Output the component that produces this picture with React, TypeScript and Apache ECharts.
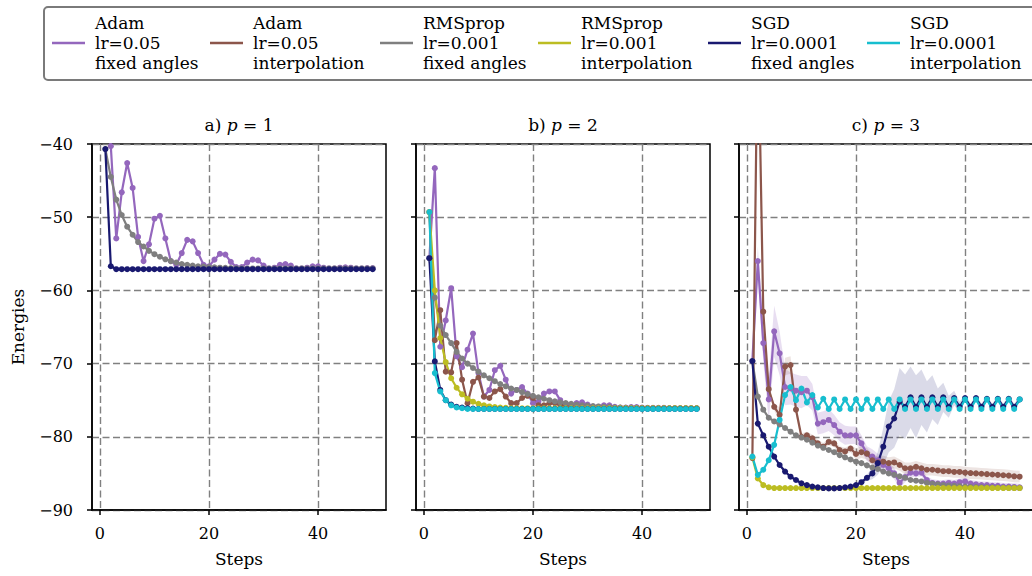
import React, { useEffect, useRef } from "react";
import * as echarts from "echarts";

const FONT = "'DejaVu Serif', serif";

const STEPS = Array.from({ length: 50 }, (_, i) => i + 1);

const SERIES_NAMES = [
  "Adam\nlr=0.05\nfixed angles",
  "Adam\nlr=0.05\ninterpolation",
  "RMSprop\nlr=0.001\nfixed angles",
  "RMSprop\nlr=0.001\ninterpolation",
  "SGD\nlr=0.0001\nfixed angles",
  "SGD\nlr=0.0001\ninterpolation",
];
const COLORS = ["#9467bd", "#8c564b", "#7f7f7f", "#bcbd22", "#191970", "#17becf"];
const BAND_COLORS = ["rgba(148,103,189,0.22)", "rgba(140,86,75,0.16)", "", "", "rgba(25,25,112,0.16)", ""];

const PANEL_TITLES = [
  "{n|a) }{i|p}{n| = 1}",
  "{n|b) }{i|p}{n| = 2}",
  "{n|c) }{i|p}{n| = 3}",
];
const X_TICKS = [0, 20, 40];

// ---------- p = 1 ----------
const adamFixedA = [
  -33, -40.3, -52.9, -46.6, -42.6, -46.0, -52.7, -56.0, -53.7, -50.2,
  -49.8, -52.9, -56.0, -56.5, -54.9, -53.1, -53.3, -54.9, -56.5, -56.7,
  -55.8, -55.0, -55.1, -56.1, -56.8, -56.8, -56.2, -55.8, -55.9, -56.6,
  -57.0, -56.9, -56.5, -56.4, -56.6, -57.0, -57.0, -56.9, -56.7, -56.7,
  -56.9, -57.0, -57.0, -56.9, -56.85, -56.9, -57.0, -57.0, -56.95, -56.95,
];
const rmsFixedA = [
  -40.7, -44.5, -47.6, -49.7, -51.3, -52.4, -53.4, -54.0, -54.6, -55.05,
  -55.4, -55.75, -56.0, -56.2, -56.4, -56.5, -56.6, -56.7, -56.75, -56.8,
  -56.85, -56.9, -56.92, -56.95, -56.97, -57.0, -57.0, -57.0, -57.0, -57.0,
  -57.0, -57.0, -57.0, -57.0, -57.0, -57.0, -57.0, -57.0, -57.0, -57.0,
  -57.0, -57.0, -57.0, -57.0, -57.0, -57.0, -57.0, -57.0, -57.0, -57.0,
];
const sgdFixedA = [
  -40.7, -56.7, -57.1, -57.1, -57.1, -57.1, -57.1, -57.1, -57.1, -57.1,
  -57.1, -57.1, -57.1, -57.1, -57.1, -57.1, -57.1, -57.1, -57.1, -57.1,
  -57.1, -57.1, -57.1, -57.1, -57.1, -57.1, -57.1, -57.1, -57.1, -57.1,
  -57.1, -57.1, -57.1, -57.1, -57.1, -57.1, -57.1, -57.1, -57.1, -57.1,
  -57.1, -57.1, -57.1, -57.1, -57.1, -57.1, -57.1, -57.1, -57.1, -57.1,
];

// ---------- p = 2 ----------
const adamFixedB = [
  -55.6, -43.3, -67.7, -64.1, -59.7, -69.0, -70.5, -68.1, -65.9, -71.3,
  -74.5, -73.6, -70.9, -70.3, -72.2, -74.1, -73.6, -73.2, -74.1, -75.4,
  -75.2, -74.1, -73.8, -73.8, -75.0, -75.6, -75.7, -75.4, -75.3, -75.6,
  -75.9, -75.9, -75.7, -75.7, -75.9, -76.0, -76.0, -75.95, -75.95, -76.0,
  -76.05, -76.05, -76.05, -76.05, -76.1, -76.1, -76.1, -76.1, -76.1, -76.1,
];
const adamInterpB = [
  -49.3, -66.8, -62.7, -71.1, -71.2, -67.2, -72.2, -75.4, -72.5, -71.9,
  -74.5, -74.7, -73.8, -73.5, -74.5, -75.4, -75.4, -74.7, -74.4, -74.7,
  -75.7, -75.7, -75.4, -75.4, -75.7, -75.9, -75.95, -75.85, -75.85, -75.95,
  -76.0, -76.0, -76.0, -76.0, -76.05, -76.1, -76.1, -76.1, -76.1, -76.1,
  -76.1, -76.1, -76.1, -76.1, -76.1, -76.1, -76.1, -76.1, -76.1, -76.1,
];
const rmsFixedB = [
  -55.6, -61.0, -64.8, -66.1, -67.2, -68.4, -69.3, -70.0, -70.6, -71.1,
  -71.6, -72.0, -72.4, -72.8, -73.1, -73.4, -73.6, -73.9, -74.15, -74.4,
  -74.6, -74.8, -75.0, -75.15, -75.3, -75.4, -75.5, -75.6, -75.7, -75.75,
  -75.8, -75.85, -75.9, -75.95, -76.0, -76.0, -76.03, -76.05, -76.05, -76.07,
  -76.08, -76.1, -76.1, -76.1, -76.1, -76.1, -76.1, -76.1, -76.1, -76.1,
];
const rmsInterpB = [
  -49.3, -60.0, -66.5, -69.8, -72.0, -73.3, -74.2, -74.8, -75.2, -75.5,
  -75.7, -75.85, -75.95, -76.0, -76.05, -76.1, -76.1, -76.1, -76.1, -76.1,
  -76.1, -76.1, -76.1, -76.1, -76.1, -76.1, -76.1, -76.1, -76.1, -76.1,
  -76.1, -76.1, -76.1, -76.1, -76.1, -76.1, -76.1, -76.1, -76.1, -76.1,
  -76.1, -76.1, -76.1, -76.1, -76.1, -76.1, -76.1, -76.1, -76.1, -76.1,
];
const sgdFixedB = [
  -55.6, -69.7, -73.6, -75.0, -75.6, -75.9, -76.0, -76.1, -76.15, -76.2,
  -76.2, -76.2, -76.2, -76.2, -76.2, -76.2, -76.2, -76.2, -76.2, -76.2,
  -76.2, -76.2, -76.2, -76.2, -76.2, -76.2, -76.2, -76.2, -76.2, -76.2,
  -76.2, -76.2, -76.2, -76.2, -76.2, -76.2, -76.2, -76.2, -76.2, -76.2,
  -76.2, -76.2, -76.2, -76.2, -76.2, -76.2, -76.2, -76.2, -76.2, -76.2,
];
const sgdInterpB = [
  -49.3, -71.3, -73.8, -75.0, -75.7, -76.0, -76.1, -76.2, -76.2, -76.2,
  -76.2, -76.2, -76.2, -76.2, -76.2, -76.2, -76.2, -76.2, -76.2, -76.2,
  -76.2, -76.2, -76.2, -76.2, -76.2, -76.2, -76.2, -76.2, -76.2, -76.2,
  -76.2, -76.2, -76.2, -76.2, -76.2, -76.2, -76.2, -76.2, -76.2, -76.2,
  -76.2, -76.2, -76.2, -76.2, -76.2, -76.2, -76.2, -76.2, -76.2, -76.2,
];

// ---------- p = 3 ----------
const adamFixedC = [
  -69.65, -56.0, -67.2, -74.9, -65.6, -68.6, -73.2, -73.4, -73.7, -73.9,
  -73.7, -74.6, -78.2, -78.0, -77.7, -78.4, -79.3, -79.8, -79.8, -79.8,
  -80.9, -82.3, -82.7, -83.2, -83.85, -84.3, -85.0, -86.3, -85.5, -84.9,
  -85.0, -84.9, -85.9, -86.3, -86.4, -86.4, -86.3, -86.4, -86.2, -86.1,
  -86.4, -86.5, -86.6, -86.6, -86.7, -86.7, -86.8, -86.8, -86.85, -86.9,
];
const adamInterpC = [
  -82.9, -22.0, -62.9, -73.5, -75.9, -77.0, -70.4, -70.2, -76.3, -80.0,
  -79.8, -80.2, -80.9, -81.35, -80.7, -80.9, -81.8, -82.0, -81.6, -82.35,
  -82.1, -82.3, -83.2, -83.5, -83.4, -83.6, -83.5, -83.85, -84.3, -84.3,
  -84.1, -84.3, -84.5, -84.5, -84.6, -84.7, -84.7, -84.8, -84.8, -84.9,
  -84.95, -85.0, -85.05, -85.1, -85.15, -85.2, -85.25, -85.3, -85.4, -85.45,
];
const rmsFixedC = [
  -69.65, -74.5, -76.3, -77.4, -77.9, -78.3, -78.8, -79.3, -79.8, -80.1,
  -80.4, -80.8, -81.2, -81.5, -81.8, -82.1, -82.5, -82.8, -83.1, -83.4,
  -83.6, -83.9, -84.2, -84.4, -84.75, -85.0, -85.2, -85.4, -85.6, -85.9,
  -86.0, -86.1, -86.3, -86.4, -86.5, -86.6, -86.65, -86.7, -86.75, -86.8,
  -86.85, -86.87, -86.9, -86.92, -86.94, -86.95, -86.96, -86.97, -86.98, -87.0,
];
const rmsInterpC = [
  -82.8, -85.7, -86.6, -86.9, -87.0, -87.0, -87.0, -87.0, -87.0, -87.0,
  -87.0, -87.0, -87.0, -87.0, -87.0, -87.0, -87.0, -87.0, -87.0, -87.0,
  -87.0, -87.0, -87.0, -87.0, -87.0, -87.0, -87.0, -87.0, -87.0, -87.0,
  -87.0, -87.0, -87.0, -87.0, -87.0, -87.0, -87.0, -87.0, -87.0, -87.0,
  -87.0, -87.0, -87.0, -87.0, -87.0, -87.0, -87.0, -87.0, -87.0, -87.0,
];
const sgdFixedC = [
  -69.65, -78.2, -79.8, -81.35, -82.7, -83.85, -84.75, -85.45, -85.9, -86.35,
  -86.6, -86.8, -86.9, -87.0, -87.05, -87.05, -87.0, -86.9, -86.8, -86.6,
  -86.2, -85.6, -85.0, -83.6, -81.35, -78.6, -77.5, -75.2, -75.9, -74.6,
  -75.9, -74.6, -75.9, -74.6, -75.9, -74.6, -75.9, -74.7, -75.9, -74.7,
  -75.9, -74.7, -75.9, -74.8, -75.9, -74.8, -75.9, -74.8, -75.9, -74.9,
];
const sgdInterpC = [
  -82.7, -85.2, -84.5, -83.2, -81.1, -77.7, -74.3, -73.2, -75.0, -73.4,
  -75.3, -74.3, -76.0, -74.8, -76.2, -74.9, -76.2, -74.9, -76.2, -74.9,
  -76.2, -74.9, -76.2, -74.9, -76.2, -74.9, -76.2, -74.9, -76.2, -74.9,
  -76.2, -74.9, -76.2, -74.9, -76.2, -74.9, -76.2, -74.9, -76.2, -74.9,
  -76.2, -74.9, -76.2, -74.9, -76.2, -74.9, -76.2, -74.9, -76.2, -74.9,
];

// spread (half-width of shaded band) for p = 3
const adamFixedSpreadC = [
  0.0, 2.0, 2.5, 3.0, 3.5, 3.0, 2.5, 2.2, 2.2, 2.2,
  2.0, 1.8, 1.5, 1.5, 1.5, 1.4, 1.3, 1.3, 1.2, 1.2,
  1.1, 1.0, 1.0, 0.9, 0.9, 0.8, 0.8, 0.7, 0.7, 0.6,
  0.5, 0.5, 0.5, 0.5, 0.5, 0.5, 0.5, 0.5, 0.5, 0.5,
  0.5, 0.5, 0.5, 0.5, 0.5, 0.5, 0.5, 0.5, 0.5, 0.5,
];
const adamInterpSpreadC = [
  0.3, 0.3, 0.3, 0.3, 0.5, 1.0, 1.2, 1.2, 0.8, 0.5,
  0.5, 0.5, 0.5, 0.5, 0.5, 0.5, 0.5, 0.5, 0.5, 0.8,
  0.8, 0.8, 0.8, 0.8, 0.8, 0.8, 0.8, 0.8, 0.8, 0.8,
  0.8, 0.8, 0.8, 0.8, 0.8, 0.8, 0.8, 0.8, 0.8, 0.8,
  0.8, 0.8, 0.8, 0.8, 0.8, 0.8, 0.8, 0.8, 0.8, 0.8,
];
const sgdFixedSpreadC = [
  0.2, 0.2, 0.2, 0.2, 0.2, 0.2, 0.2, 0.2, 0.2, 0.2,
  0.2, 0.2, 0.2, 0.2, 0.2, 0.2, 0.2, 0.2, 0.2, 0.2,
  0.2, 0.4, 0.8, 1.6, 2.6, 3.5, 4.0, 4.6, 4.4, 4.2,
  4.3, 3.8, 3.5, 3.0, 2.5, 2.0, 1.5, 1.0, 0.7, 0.5,
  0.4, 0.4, 0.4, 0.4, 0.4, 0.4, 0.4, 0.4, 0.4, 0.4,
];

// layout constants
const GRID_LEFTS = [92, 416, 739];
const GRID_TOP = 144;
const GRID_W = 294;
const GRID_H = 366;
const LEGEND_LEFTS = [52, 210, 380, 538, 708, 867];

type PanelSeries = { idx: number; values: number[]; spread?: number[] };

const PANELS: PanelSeries[][] = [
  [
    { idx: 0, values: adamFixedA },
    { idx: 2, values: rmsFixedA },
    { idx: 4, values: sgdFixedA },
  ],
  [
    { idx: 0, values: adamFixedB },
    { idx: 1, values: adamInterpB },
    { idx: 2, values: rmsFixedB },
    { idx: 3, values: rmsInterpB },
    { idx: 4, values: sgdFixedB },
    { idx: 5, values: sgdInterpB },
  ],
  [
    { idx: 0, values: adamFixedC, spread: adamFixedSpreadC },
    { idx: 1, values: adamInterpC, spread: adamInterpSpreadC },
    { idx: 2, values: rmsFixedC },
    { idx: 3, values: rmsInterpC },
    { idx: 4, values: sgdFixedC, spread: sgdFixedSpreadC },
    { idx: 5, values: sgdInterpC },
  ],
];

const minusFmt = (v: number) => (v < 0 ? "\u2212" + Math.abs(v) : String(v));

function buildOption() {
  const grids = GRID_LEFTS.map((left) => ({
    left,
    top: GRID_TOP,
    width: GRID_W,
    height: GRID_H,
    show: true,
    borderColor: "#000",
    borderWidth: 1.5,
    backgroundColor: "transparent",
    outerBoundsMode: "none",
    containLabel: false,
  }));

  const gridLine = { show: true, lineStyle: { color: "#808080", width: 1.4, type: [7, 3.5] } };
  const axisLine = { show: true, onZero: false, lineStyle: { color: "#000", width: 1.5 } };
  const tickStyle = { color: "#000", width: 1.5 };

  const xAxes = GRID_LEFTS.map((_, i) => ({
    type: "value",
    gridIndex: i,
    min: -1.45,
    max: 52.45,
    axisLine,
    axisTick: { show: true, inside: false, length: 5, lineStyle: tickStyle, customValues: X_TICKS },
    axisLabel: { show: true, customValues: X_TICKS, color: "#000", fontSize: 16, fontFamily: FONT, margin: 15 },
    splitLine: gridLine,
    name: "Steps",
    nameLocation: "middle",
    nameGap: 40,
    nameTextStyle: { color: "#000", fontSize: 17, fontFamily: FONT },
  }));

  const yAxes = GRID_LEFTS.map((_, i) => ({
    type: "value",
    gridIndex: i,
    min: -90,
    max: -40,
    interval: 10,
    axisLine,
    axisTick: { show: true, inside: false, length: 5, lineStyle: tickStyle },
    axisLabel: { show: i === 0, color: "#000", fontSize: 16, fontFamily: FONT, margin: 19, formatter: minusFmt },
    splitLine: gridLine,
    name: i === 0 ? "Energies" : "",
    nameLocation: "middle",
    nameGap: 66,
    nameRotate: 90,
    nameTextStyle: { color: "#000", fontSize: 17, fontFamily: FONT },
  }));

  const series: any[] = [];
  PANELS.forEach((panel, p) => {
    panel.forEach((s) => {
      if (!s.spread) return;
      const mean = s.values;
      const spread = s.spread;
      series.push({
        type: "custom",
        name: SERIES_NAMES[s.idx] + " band",
        xAxisIndex: p,
        yAxisIndex: p,
        silent: true,
        z: 1,
        data: [[STEPS[0], mean[0]]],
        encode: { x: 0, y: 1 },
        renderItem: (params: any, api: any) => {
          const upper = STEPS.map((st, k) => api.coord([st, mean[k] + spread[k]]));
          const lower = STEPS.map((st, k) => api.coord([st, mean[k] - spread[k]])).reverse();
          const cs = params.coordSys;
          return {
            type: "group",
            clipPath: { type: "rect", shape: { x: cs.x, y: cs.y, width: cs.width, height: cs.height } },
            children: [
              { type: "polygon", shape: { points: upper.concat(lower) }, style: { fill: BAND_COLORS[s.idx] } },
            ],
          };
        },
      });
    });
  });
  PANELS.forEach((panel, p) => {
    panel.forEach((s) => {
      const color = COLORS[s.idx];
      series.push({
        type: "line",
        name: SERIES_NAMES[s.idx],
        xAxisIndex: p,
        yAxisIndex: p,
        data: s.values.map((v, k) => [STEPS[k], v]),
        symbol: "circle",
        symbolSize: 6,
        showSymbol: true,
        clip: true,
        z: 2,
        lineStyle: { color, width: 2.2 },
        itemStyle: { color },
        emphasis: { disabled: true },
      });
    });
  });

  const legends = SERIES_NAMES.map((name, i) => ({
    data: [name],
    left: LEGEND_LEFTS[i],
    top: 13,
    padding: 0,
    icon: "rect",
    itemWidth: 33,
    itemHeight: 2.5,
    selectedMode: false,
    textStyle: { color: "#000", fontSize: 17, lineHeight: 20, fontFamily: FONT, padding: [0, 0, 0, 5] },
  }));

  const graphic: any[] = [
    {
      type: "rect",
      z: 0,
      shape: { x: 44, y: 7, width: 1000, height: 73, r: 4 },
      style: { fill: "none", stroke: "#7a7a7a", lineWidth: 2 },
      silent: true,
    },
  ];
  PANEL_TITLES.forEach((t, i) => {
    graphic.push({
      type: "text",
      x: GRID_LEFTS[i] + GRID_W / 2,
      y: 125,
      silent: true,
      style: {
        text: t,
        align: "center",
        verticalAlign: "middle",
        fill: "#000",
        rich: {
          n: { fontSize: 17, fontFamily: FONT, fill: "#000" },
          i: { fontSize: 17, fontFamily: FONT, fontStyle: "italic", fill: "#000" },
        },
      },
    });
  });

  return {
    animation: false,
    backgroundColor: "#fff",
    textStyle: { fontFamily: FONT, color: "#000" },
    grid: grids,
    xAxis: xAxes,
    yAxis: yAxes,
    legend: legends,
    graphic,
    tooltip: { show: false },
    series,
  };
}

export default function App() {
  const ref = useRef<HTMLDivElement>(null);
  useEffect(() => {
    if (!ref.current) return;
    const chart = echarts.init(ref.current, null, { renderer: "svg" });
    chart.setOption(buildOption() as any);
    return () => chart.dispose();
  }, []);
  return (
    <div
      ref={ref}
      style={{ position: "absolute", left: 0, top: 0, width: 1032, height: 576, background: "#fff" }}
    />
  );
}
